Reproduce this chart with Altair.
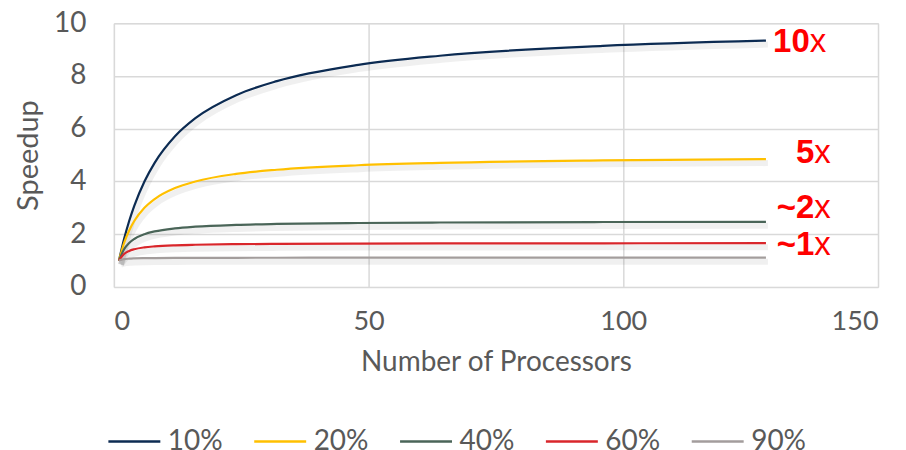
import altair as alt
import pandas as pd

processors = [1, 2, 3, 4, 6, 8, 12, 16, 24, 32, 48, 64, 96, 128]
s10 = [1.0, 1.818, 2.5, 3.077, 4.0, 4.706, 5.714, 6.4, 7.273, 7.805, 8.421, 8.767, 9.143, 9.343]
s20 = [1.0, 1.667, 2.143, 2.5, 3.0, 3.333, 3.75, 4.0, 4.286, 4.444, 4.615, 4.706, 4.8, 4.848]
s40 = [1.0, 1.429, 1.667, 1.818, 2.0, 2.105, 2.222, 2.286, 2.353, 2.388, 2.424, 2.443, 2.462, 2.471]
s60 = [1.0, 1.25, 1.364, 1.429, 1.5, 1.538, 1.579, 1.6, 1.622, 1.633, 1.644, 1.649, 1.655, 1.658]
s90 = [1.0, 1.053, 1.071, 1.081, 1.091, 1.096, 1.101, 1.103, 1.106, 1.107, 1.109, 1.109, 1.110, 1.110]

series = ["10%", "20%", "40%", "60%", "90%"]
colors = ["#0C2B52", "#FFC000", "#4A6558", "#D9262B", "#A39D9C"]

label_num = ["10", "5", "~2", "~1"]
label_x = [136.6, 137.5, 137.5, 137.5]
label_y = [8.90, 4.70, 2.61, 1.21]

rows = []
for name, vals in zip(series, [s10, s20, s40, s60, s90]):
    for n, v in zip(processors, vals):
        rows.append({"series": name, "n": n, "s": v})
df = pd.DataFrame(rows)
lab = pd.DataFrame({"num": label_num, "x": label_x, "y": label_y, "suffix": ["x"] * 4})

FONT = "Lato"
GREY = "#595959"

x_enc = alt.X("n:Q", scale=alt.Scale(domain=[0, 150], nice=False),
              axis=alt.Axis(values=[0, 50, 100, 150], title="Number of Processors",
                            labelFontSize=27, titleFontSize=28, labelFont=FONT, titleFont=FONT,
                            labelColor=GREY, titleColor=GREY, titleFontWeight="normal",
                            domain=False, ticks=False, labelPadding=22, titlePadding=14,
                            gridColor="#D9D9D9", gridWidth=1.5))
y_enc = alt.Y("s:Q", scale=alt.Scale(domain=[0, 10], nice=False),
              axis=alt.Axis(values=[0, 2, 4, 6, 8, 10], title="Speedup",
                            labelFontSize=28, titleFontSize=29, labelFont=FONT, titleFont=FONT,
                            labelColor=GREY, titleColor=GREY, titleFontWeight="normal",
                            domain=False, ticks=False, labelPadding=28, titlePadding=10,
                            gridColor="#D9D9D9", gridWidth=1.5))

shadow = alt.Chart(df).mark_line(color="#000000", opacity=0.06, strokeWidth=6,
                                 interpolate="monotone", xOffset=2, yOffset=4).encode(
    x=x_enc, y=y_enc, detail="series:N")

lines = alt.Chart(df).mark_line(strokeWidth=2.2, interpolate="monotone").encode(
    x=x_enc, y=y_enc,
    color=alt.Color("series:N", scale=alt.Scale(domain=series, range=colors),
                    legend=alt.Legend(title=None, orient="none", legendX=-7, legendY=391,
                                      direction="horizontal", symbolType="stroke",
                                      symbolSize=2704, symbolStrokeWidth=2.5,
                                      labelFontSize=28, labelFont=FONT, labelColor=GREY,
                                      columnPadding=26, labelOffset=6)))

num_text = alt.Chart(lab).mark_text(align="right", baseline="alphabetic", fontSize=33,
                                    fontWeight="bold", font="Liberation Sans",
                                    color="#FF0000").encode(
    x=alt.X("x:Q"), y=alt.Y("y:Q"), text="num:N")
x_text = alt.Chart(lab).mark_text(align="left", baseline="alphabetic", fontSize=33,
                                  font="Liberation Sans", color="#FF0000").encode(
    x=alt.X("x:Q"), y=alt.Y("y:Q"), text="suffix:N")

chart = alt.layer(shadow, lines, num_text, x_text).properties(
    width=765, height=264,
    autosize=alt.AutoSizeParams(type="none"),
    padding={"left": 106, "top": 15, "right": 20, "bottom": 175},
).configure_view(stroke="#D9D9D9", strokeWidth=1.5).configure(background="white")

chart.save("out.html", embed_options={"renderer": "svg", "actions": False})
